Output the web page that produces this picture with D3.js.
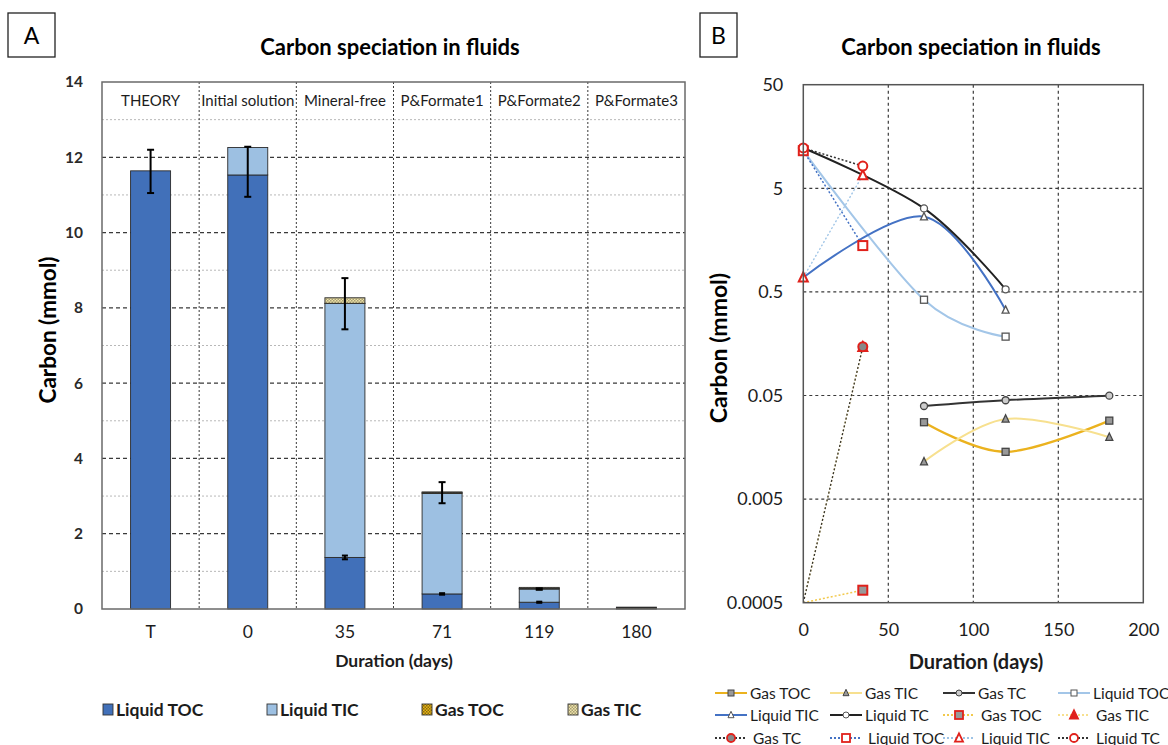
<!DOCTYPE html>
<html><head><meta charset="utf-8">
<script src="https://cdn.jsdelivr.net/npm/d3@7"></script>
<style>
html,body{margin:0;padding:0;background:#fff;}
svg{display:block;font-family:Lato,"Open Sans",sans-serif;}
</style></head>
<body>
<svg id="chart" width="1168" height="745"></svg>
<script>
// ---------- Panel A data ----------
const categoriesA = ["THEORY","Initial solution","Mineral-free","P&Formate1","P&Formate2","P&Formate3"];
const xLabelsA = ["T","0","35","71","119","180"];
const liquidTOC = [11.64, 11.53, 1.37, 0.40, 0.18, 0];
const liquidTIC = [0, 0.73, 6.75, 2.67, 0.35, 0];
const gasTOC = [0, 0, 0.0007, 0.028, 0.014, 0.029];
const gasTIC = [0, 0, 0.147, 0.012, 0.030, 0.020];
const errLow = [11.05, 10.95, 7.43, 2.81, 0.51, null];
const errHigh = [12.2, 12.28, 8.79, 3.37, 0.55, null];
const tocErrLow = [null, null, 1.32, 0.38, 0.165, null];
const tocErrHigh = [null, null, 1.42, 0.42, 0.195, null];
const yTicksA = [0,2,4,6,8,10,12,14];
const legendA = ["Liquid TOC","Liquid TIC","Gas TOC","Gas TIC"];

// ---------- Panel B data ----------
const xTicksB = [0,50,100,150,200];
const yTicksB = [0.0005,0.005,0.05,0.5,5,50];
const daysGas = [71,119,180];
const daysLiq = [0,71,119];
const daysEarly = [0,35];
const gasTOC_B = [0.0276, 0.0143, 0.0286];
const gasTIC_B = [0.0115, 0.0297, 0.0198];
const gasTC_B = [0.0396, 0.0450, 0.0498];
const liqTOC_B = [11.53, 0.42, 0.185];
const liqTIC_B = [0.69, 2.66, 0.334];
const liqTC_B = [12.26, 3.2, 0.53];
const gasTOC_E = [0.0005, 0.00066];
const gasTIC_E = [0.0005, 0.147];
const gasTC_E = [0.0005, 0.148];
const liqTOC_E = [11.53, 1.40];
const liqTIC_E = [0.69, 6.7];
const liqTC_E = [12.26, 8.2];

const svg = d3.select("#chart");
const defs = svg.append("defs");
function checker(id, bg, fg){
  const p = defs.append("pattern").attr("id",id).attr("width",3).attr("height",3).attr("patternUnits","userSpaceOnUse");
  p.append("rect").attr("width",3).attr("height",3).attr("fill",bg);
  p.append("rect").attr("width",1.5).attr("height",1.5).attr("fill",fg);
  p.append("rect").attr("x",1.5).attr("y",1.5).attr("width",1.5).attr("height",1.5).attr("fill",fg);
}
checker("pGasTOC","#E9B614","#8a6a10");
checker("pGasTIC","#EFE4A8","#a69d74");

const colA = {"Liquid TOC":"#4170B9","Liquid TIC":"#9DC0E2","Gas TOC":"url(#pGasTOC)","Gas TIC":"url(#pGasTIC)"};
const txt = "#1c1c1c";

// ---------- Panel A ----------
const A = {l:102, r:685, t:82, b:609};
const yA = d3.scaleLinear().domain([0,14]).range([A.b, A.t]);
const xA = d3.scaleBand().domain(xLabelsA).range([A.l, A.r]);
const gA = svg.append("g");

gA.selectAll(".minor").data(d3.range(1,14,2)).join("line")
  .attr("x1",A.l).attr("x2",A.r).attr("y1",d=>yA(d)).attr("y2",d=>yA(d))
  .attr("stroke","#b8b8b8").attr("stroke-width",1).attr("stroke-dasharray","2,2");
gA.selectAll(".major").data(yTicksA.filter(d=>d>0&&d<14)).join("line")
  .attr("x1",A.l).attr("x2",A.r).attr("y1",d=>yA(d)).attr("y2",d=>yA(d))
  .attr("stroke","#3a3a3a").attr("stroke-width",1.2).attr("stroke-dasharray","4,3");
gA.selectAll(".vdiv").data(xLabelsA.slice(1)).join("line")
  .attr("x1",d=>xA(d)).attr("x2",d=>xA(d)).attr("y1",A.t).attr("y2",A.b)
  .attr("stroke","#3a3a3a").attr("stroke-width",1).attr("stroke-dasharray","2,2");
gA.selectAll(".cat").data(categoriesA).join("text")
  .attr("x",(d,i)=>xA(xLabelsA[i])+xA.bandwidth()/2).attr("y",105.5)
  .attr("text-anchor","middle").attr("font-size",15).attr("fill",txt).text(d=>d);

const rows = xLabelsA.map((d,i)=>({cat:d,"Liquid TOC":liquidTOC[i],"Liquid TIC":liquidTIC[i],"Gas TOC":gasTOC[i],"Gas TIC":gasTIC[i]}));
const stack = d3.stack().keys(legendA)(rows);
const bw = 40;
stack.forEach(layer=>{
  gA.selectAll(null).data(layer.filter(d=>d[1]-d[0]>0)).join("rect")
    .attr("x",d=>xA(d.data.cat)+(xA.bandwidth()-bw)/2).attr("width",bw)
    .attr("y",d=>yA(d[1])).attr("height",d=>yA(d[0])-yA(d[1]))
    .attr("fill",colA[layer.key]).attr("stroke","#2b2b2b").attr("stroke-width",0.9);
});
function errBars(lo, hi, cap){
  const data = xLabelsA.map((d,i)=>({cat:d,lo:lo[i],hi:hi[i]})).filter(d=>d.lo!=null);
  const cx = d=>xA(d.cat)+xA.bandwidth()/2;
  gA.selectAll(null).data(data).join("line").attr("x1",cx).attr("x2",cx)
    .attr("y1",d=>yA(d.lo)).attr("y2",d=>yA(d.hi)).attr("stroke","#000").attr("stroke-width",2);
  ["lo","hi"].forEach(k=>{
    gA.selectAll(null).data(data).join("line").attr("x1",d=>cx(d)-cap).attr("x2",d=>cx(d)+cap)
      .attr("y1",d=>yA(d[k])).attr("y2",d=>yA(d[k])).attr("stroke","#000").attr("stroke-width",2);
  });
}
errBars(errLow, errHigh, 3.5);
errBars(tocErrLow, tocErrHigh, 3);

gA.append("rect").attr("x",A.l).attr("y",A.t).attr("width",A.r-A.l).attr("height",A.b-A.t)
  .attr("fill","none").attr("stroke","#6a6a6a").attr("stroke-width",1.5);

const axA = gA.append("g").attr("transform",`translate(${A.l},0)`)
  .call(d3.axisLeft(yA).tickValues(yTicksA).tickSize(0).tickPadding(19));
axA.select(".domain").remove();
axA.selectAll("text").attr("font-size",15.5).attr("font-weight","bold").attr("fill","#2a2a2a").attr("font-family","Lato");
const axAx = gA.append("g").attr("transform",`translate(0,${A.b})`)
  .call(d3.axisBottom(xA).tickSize(0).tickPadding(17));
axAx.select(".domain").remove();
axAx.selectAll("text").attr("font-size",17.5).attr("fill",txt).attr("font-family","Lato");

gA.append("text").attr("x",394).attr("y",667).attr("text-anchor","middle")
  .attr("font-size",17.5).attr("font-weight","bold").attr("fill",txt).text("Duration (days)");
gA.append("text").attr("transform","translate(56,330) rotate(-90)").attr("text-anchor","middle")
  .attr("font-size",22.5).attr("font-weight","bold").attr("fill","#000").text("Carbon (mmol)");
gA.append("text").attr("x",390).attr("y",55).attr("text-anchor","middle")
  .attr("font-size",22).attr("font-weight","bold").attr("fill","#000").text("Carbon speciation in fluids");
gA.append("rect").attr("x",8).attr("y",13).attr("width",47).attr("height",44).attr("fill","none").attr("stroke","#222").attr("stroke-width",1.3);
gA.append("text").attr("x",31.5).attr("y",44).attr("text-anchor","middle").attr("font-size",23).attr("fill","#000").text("A");

const legAx = [103,267,422,568];
legendA.forEach((k,i)=>{
  gA.append("rect").attr("x",legAx[i]).attr("y",704).attr("width",10).attr("height",11)
    .attr("fill",colA[k]).attr("stroke","#333").attr("stroke-width",0.9);
  gA.append("text").attr("x",legAx[i]+13).attr("y",716).attr("font-size",17.5).attr("font-weight","bold").attr("fill",txt).text(k);
});

// ---------- Panel B ----------
const B = {l:803.3, r:1143.3, t:84.7, b:602.7};
const xB = d3.scaleLinear().domain([0,200]).range([B.l,B.r]);
const yB = d3.scaleLog().domain([0.0005,50]).range([B.b,B.t]);
const gB = svg.append("g");

gB.selectAll(".hg").data(yTicksB.slice(1,-1)).join("line")
  .attr("x1",B.l).attr("x2",B.r).attr("y1",d=>yB(d)).attr("y2",d=>yB(d))
  .attr("stroke","#3a3a3a").attr("stroke-width",1.2).attr("stroke-dasharray","3,3");
gB.selectAll(".vg").data(xTicksB.slice(1,-1)).join("line")
  .attr("x1",d=>xB(d)).attr("x2",d=>xB(d)).attr("y1",B.t).attr("y2",B.b)
  .attr("stroke","#3a3a3a").attr("stroke-width",1.2).attr("stroke-dasharray","3,3");

const cpB = gB.append("clipPath").attr("id","clipB");
cpB.append("rect").attr("x",B.l).attr("y",B.t).attr("width",B.r-B.l).attr("height",B.b-B.t);
const plot = gB.append("g").attr("clip-path","url(#clipB)");

const lineGen = d3.line().x(d=>xB(d[0])).y(d=>yB(d[1])).curve(d3.curveCardinal.tension(0));
const straight = d3.line().x(d=>xB(d[0])).y(d=>yB(d[1]));
const zip = (xs,ys)=>xs.map((x,i)=>[x,ys[i]]);

const seriesSolid = [
  {name:"Gas TOC", days:daysGas, vals:gasTOC_B, color:"#EBB21E", w:2.2, marker:"square", mFill:"#999", mStroke:"#444"},
  {name:"Gas TIC", days:daysGas, vals:gasTIC_B, color:"#F7E08F", w:2, marker:"triangle", mFill:"#999", mStroke:"#444"},
  {name:"Gas TC", days:daysGas, vals:gasTC_B, color:"#333", w:2, marker:"circle", mFill:"#ccc", mStroke:"#444"},
  {name:"Liquid TOC", days:daysLiq, vals:liqTOC_B, color:"#A3C6E8", w:2, marker:"square", mFill:"#fff", mStroke:"#555"},
  {name:"Liquid TIC", days:daysLiq, vals:liqTIC_B, color:"#4472C4", w:2, marker:"triangle", mFill:"#fff", mStroke:"#555"},
  {name:"Liquid TC", days:daysLiq, vals:liqTC_B, color:"#222", w:2, marker:"circle", mFill:"#fff", mStroke:"#555"}
];
const seriesEarly = [
  {name:"Gas TOC", days:daysEarly, vals:gasTOC_E, color:"#F2C94C", w:1.5, marker:"square", mFill:"#999", mStroke:"#E0211B"},
  {name:"Gas TIC", days:daysEarly, vals:gasTIC_E, color:"#F7E08F", w:1.5, marker:"triangle", mFill:"#E0211B", mStroke:"#E0211B"},
  {name:"Gas TC", days:daysEarly, vals:gasTC_E, color:"#333", w:1.3, marker:"circle", mFill:"#888", mStroke:"#E0211B"},
  {name:"Liquid TOC", days:daysEarly, vals:liqTOC_E, color:"#4472C4", w:1.5, marker:"square", mFill:"#fff", mStroke:"#E0211B"},
  {name:"Liquid TIC", days:daysEarly, vals:liqTIC_E, color:"#9DC3E6", w:1.3, marker:"triangle", mFill:"#fff", mStroke:"#E0211B"},
  {name:"Liquid TC", days:daysEarly, vals:liqTC_E, color:"#333", w:1.5, marker:"circle", mFill:"#fff", mStroke:"#E0211B"}
];

seriesSolid.forEach(s=>{
  plot.append("path").attr("d",lineGen(zip(s.days,s.vals))).attr("fill","none")
    .attr("stroke",s.color).attr("stroke-width",s.w);
});
seriesEarly.forEach(s=>{
  plot.append("path").attr("d",straight(zip(s.days,s.vals))).attr("fill","none")
    .attr("stroke",s.color).attr("stroke-width",s.w).attr("stroke-dasharray","2,2");
});

function drawMarker(g, type, x, y, size, fill, stroke, sw){
  if(type==="square"){
    g.append("rect").attr("x",x-size/2).attr("y",y-size/2).attr("width",size).attr("height",size)
      .attr("fill",fill).attr("stroke",stroke).attr("stroke-width",sw);
  } else if(type==="circle"){
    g.append("circle").attr("cx",x).attr("cy",y).attr("r",size/2)
      .attr("fill",fill).attr("stroke",stroke).attr("stroke-width",sw);
  } else {
    const h=size*0.9;
    g.append("path").attr("d",`M${x},${y-h/2-1}L${x+size/2},${y+h/2}L${x-size/2},${y+h/2}Z`)
      .attr("fill",fill).attr("stroke",stroke).attr("stroke-width",sw);
  }
}
const mk = gB.append("g");
seriesSolid.forEach(s=>{
  s.days.forEach((d,i)=>{
    if(s.vals[i]>0.0005) drawMarker(mk,s.marker,xB(d),yB(s.vals[i]),7,s.mFill,s.mStroke,1.3);
  });
});
seriesEarly.forEach(s=>{
  s.days.forEach((d,i)=>{
    if(s.vals[i]>0.0005) drawMarker(mk,s.marker,xB(d),yB(s.vals[i]),9,s.mFill,s.mStroke,2);
  });
});

gB.append("rect").attr("x",B.l).attr("y",B.t).attr("width",B.r-B.l).attr("height",B.b-B.t)
  .attr("fill","none").attr("stroke","#555").attr("stroke-width",1.5);

const axB = gB.append("g").attr("transform",`translate(${B.l},0)`)
  .call(d3.axisLeft(yB).tickValues(yTicksB).tickFormat(d=>String(d)).tickSize(0).tickPadding(20));
axB.select(".domain").remove();
axB.selectAll("text").attr("font-size",18).attr("fill",txt).attr("font-family","Lato");
const axBx = gB.append("g").attr("transform",`translate(0,${B.b})`)
  .call(d3.axisBottom(xB).tickValues(xTicksB).tickSize(0).tickPadding(21));
axBx.select(".domain").remove();
axBx.selectAll("text").attr("font-size",18).attr("fill",txt).attr("font-family","Lato");

gB.append("text").attr("x",976).attr("y",669).attr("text-anchor","middle")
  .attr("font-size",20).attr("font-weight","bold").attr("fill",txt).text("Duration (days)");
gB.append("text").attr("transform","translate(727,348) rotate(-90)").attr("text-anchor","middle")
  .attr("font-size",23).attr("font-weight","bold").attr("fill","#000").text("Carbon (mmol)");
gB.append("text").attr("x",971).attr("y",55).attr("text-anchor","middle")
  .attr("font-size",22).attr("font-weight","bold").attr("fill","#000").text("Carbon speciation in fluids");
gB.append("rect").attr("x",700).attr("y",13).attr("width",37).attr("height",44).attr("fill","none").attr("stroke","#222").attr("stroke-width",1.3);
gB.append("text").attr("x",718.5).attr("y",44).attr("text-anchor","middle").attr("font-size",23).attr("fill","#000").text("B");

const legendB = seriesSolid.map(s=>({...s,dotted:false,ms:5,msw:1})).concat(seriesEarly.map(s=>({...s,dotted:true,ms:7,msw:1.8})));
const legColX = [715,830,943,1058];
const legRowY = [693,715,738];
legendB.forEach((s,i)=>{
  const c=i%4, r=Math.floor(i/4);
  const x0=legColX[c], y0=legRowY[r];
  const lg = gB.append("g");
  lg.append("line").attr("x1",x0).attr("x2",x0+32).attr("y1",y0).attr("y2",y0)
    .attr("stroke",s.color).attr("stroke-width",s.dotted?1.8:2).attr("stroke-dasharray",s.dotted?"2,2":null);
  drawMarker(lg,s.marker,x0+16,y0,s.ms+1,s.mFill,s.mStroke,s.msw);
  lg.append("text").attr("x",x0+(s.dotted?38:35)).attr("y",y0+5.5).attr("font-size",15.5).attr("fill",txt).text(s.name);
});
</script>
</body></html>
